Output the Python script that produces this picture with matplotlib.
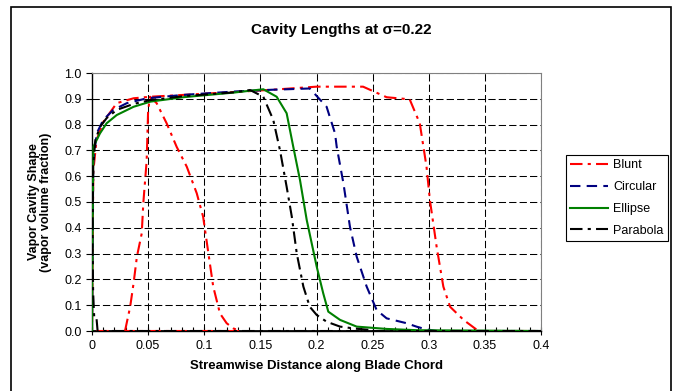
import matplotlib
matplotlib.use("Agg")
import matplotlib.pyplot as plt
from matplotlib.patches import Rectangle
from matplotlib.ticker import MultipleLocator, FormatStrFormatter

plt.rcParams['font.family'] = ['Liberation Sans', 'DejaVu Sans']

# Blunt: the small loop first, back along the axis, then the main cavity
blunt_x = [0.0294, 0.034, 0.037, 0.040, 0.0443, 0.0457, 0.0487, 0.050, 0.0517,
           0.0576, 0.0665, 0.0754, 0.0844, 0.0933, 0.099, 0.1037, 0.108, 0.114,
           0.120, 0.126, 0.1317, 0.0, 0.0,
           0.0006, 0.0012, 0.004, 0.010, 0.022, 0.037, 0.052, 0.081, 0.126, 0.16,
           0.200, 0.2415, 0.2625, 0.283, 0.292, 0.298, 0.301, 0.307, 0.313, 0.319,
           0.331, 0.343, 0.3486, 0.3546, 0.40]
blunt_y = [0.0, 0.094, 0.184, 0.288, 0.378, 0.495, 0.66, 0.855, 0.908,
           0.883, 0.805, 0.714, 0.637, 0.534, 0.443, 0.301, 0.172, 0.068,
           0.030, 0.010, 0.0, 0.0, 0.0,
           0.35, 0.62, 0.74, 0.81, 0.883, 0.902, 0.908, 0.915, 0.926, 0.935,
           0.947, 0.947, 0.906, 0.898, 0.805, 0.637, 0.508, 0.327, 0.172, 0.094,
           0.043, 0.004, -0.009, 0.0, 0.0]

circ_x = [0.0, 0.0006, 0.0012, 0.0042, 0.010, 0.019, 0.031, 0.049, 0.081, 0.126,
          0.16, 0.194, 0.209, 0.2165, 0.218, 0.224, 0.2298, 0.2358, 0.2447, 0.2536,
          0.2625, 0.2804, 0.289, 0.298, 0.307, 0.40]
circ_y = [0.0, 0.40, 0.66, 0.766, 0.818, 0.857, 0.883, 0.902, 0.915, 0.928,
          0.935, 0.94, 0.869, 0.766, 0.714, 0.572, 0.404, 0.288, 0.172, 0.081,
          0.049, 0.030, 0.017, 0.006, 0.0, 0.0]

ell_x = [0.0, 0.0006, 0.0012, 0.0071, 0.013, 0.022, 0.037, 0.052, 0.081, 0.126,
         0.1526, 0.1645, 0.1734, 0.1793, 0.1853, 0.1913, 0.2002, 0.206, 0.2105,
         0.221, 0.2358, 0.2625, 0.29, 0.40]
ell_y = [0.0, 0.45, 0.714, 0.766, 0.805, 0.837, 0.869, 0.889, 0.906, 0.924,
         0.937, 0.908, 0.844, 0.714, 0.585, 0.43, 0.249, 0.146, 0.075,
         0.043, 0.017, 0.008, 0.003, 0.0]

para_x = [0.40, 0.005, 0.004, 0.003, 0.002, 0.001, 0.0005, 0.001, 0.003, 0.007,
          0.013, 0.022, 0.037, 0.052, 0.081, 0.126, 0.1408, 0.1526, 0.1615,
          0.1675, 0.1734, 0.178, 0.1824, 0.1883, 0.194, 0.2002, 0.209, 0.221,
          0.233, 0.25]
para_y = [0.0, 0.0, 0.05, 0.05, 0.05, 0.15, 0.35, 0.64, 0.74, 0.79,
          0.825, 0.857, 0.88, 0.895, 0.91, 0.925, 0.934, 0.908, 0.818,
          0.70, 0.559, 0.443, 0.301, 0.172, 0.094, 0.062, 0.036, 0.017,
          0.010, 0.003]

fig = plt.figure(figsize=(6.78, 3.91), dpi=100)
ax = fig.add_axes([92/678, 1-331/391, (541-92)/678, (331-73)/391])

lw = 1.5
ax.plot(blunt_x, blunt_y, color='#FF0000', lw=lw, linestyle=(0, (6, 2.5, 1.5, 2.5)), label='Blunt', zorder=3)
ax.plot(circ_x, circ_y, color='#000080', lw=lw, linestyle=(0, (5, 3)), label='Circular', zorder=4)
ax.plot(ell_x, ell_y, color='#008000', lw=lw, linestyle='-', label='Ellipse', zorder=5)
ax.plot(para_x, para_y, color='black', lw=lw, linestyle=(0, (6, 2.5, 1.5, 2.5)), label='Parabola', zorder=6)
# solid black baseline seen along y=0
ax.axhline(0, color='black', lw=2.0, zorder=2)

ax.set_xlim(0, 0.4)
ax.set_ylim(0, 1.0)
ax.xaxis.set_minor_locator(MultipleLocator(0.01))
ax.yaxis.set_major_locator(MultipleLocator(0.1))
ax.yaxis.set_major_formatter(FormatStrFormatter('%.1f'))
ax.set_xticks([0, 0.05, 0.1, 0.15, 0.2, 0.25, 0.3, 0.35, 0.4])
ax.set_xticklabels(['0', '0.05', '0.1', '0.15', '0.2', '0.25', '0.3', '0.35', '0.4'])
ax.tick_params(axis='both', which='major', labelsize=9, length=4, width=0.8, color='black')
ax.tick_params(axis='x', which='major', direction='inout', length=6)
ax.tick_params(axis='x', which='minor', direction='in', length=3, width=0.8)
ax.grid(True, which='major', color='black', linestyle=(0, (7, 3)), lw=0.75, zorder=1)
ax.set_axisbelow(True)

for s in ['top', 'right']:
    ax.spines[s].set_color('#808080')
    ax.spines[s].set_linewidth(0.8)
for s in ['left', 'bottom']:
    ax.spines[s].set_color('black')
    ax.spines[s].set_linewidth(1.0)

ax.set_xlabel('Streamwise Distance along Blade Chord', fontsize=9.5, fontweight='bold', labelpad=6)
fig.text(40/678, 1-202/391, 'Vapor Cavity Shape\n(vapor volume fraction)', rotation=90,
         ha='center', va='center', fontsize=9, fontweight='bold', linespacing=1.1)
fig.text(341/678, 1-30/391, 'Cavity Lengths at σ=0.22', ha='center', va='center',
         fontsize=11, fontweight='bold')

leg = ax.legend(loc='upper left', bbox_to_anchor=(566/678, 1-155/391), bbox_transform=fig.transFigure,
                fontsize=9, frameon=True, fancybox=False, edgecolor='black', framealpha=1,
                handlelength=3.0, handletextpad=0.45, borderpad=0.35, labelspacing=0.78,
                borderaxespad=0)
leg.get_frame().set_linewidth(0.8)

fig.add_artist(Rectangle((11/678, -0.02), (671-11)/678, 1-7/391+0.02, transform=fig.transFigure,
                         fill=False, edgecolor='black', lw=1.2))

fig.savefig('out.png', dpi=100)
